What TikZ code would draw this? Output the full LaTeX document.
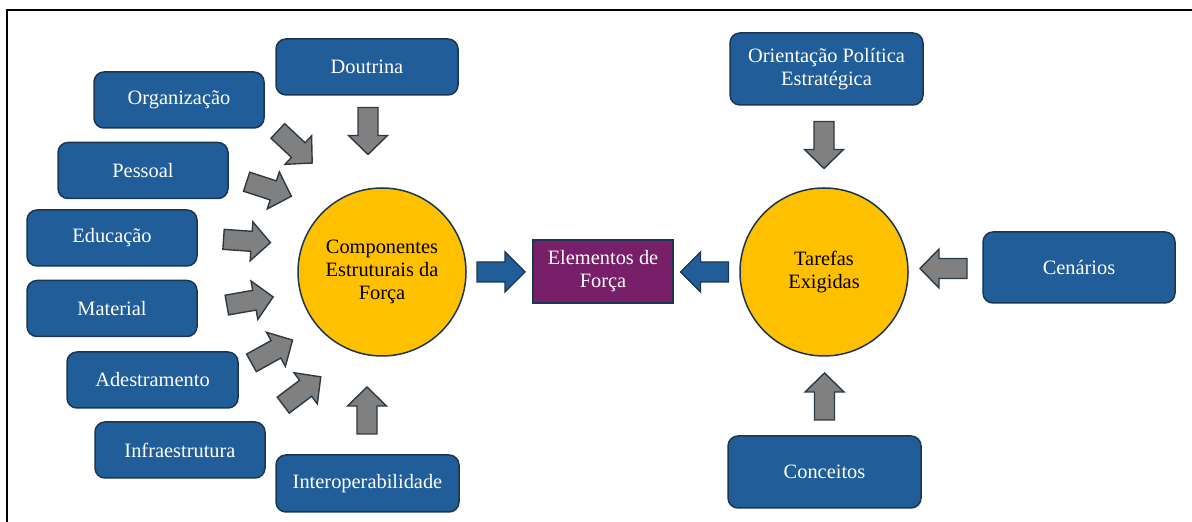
\documentclass[tikz,border=0pt]{standalone}
\usepackage{fontspec}
\setmainfont{Liberation Serif}
\definecolor{boxblue}{HTML}{215E99}
\definecolor{boxline}{HTML}{1B3650}
\definecolor{agray}{HTML}{808080}
\definecolor{aline}{HTML}{2C3A46}
\definecolor{cyellow}{HTML}{FFC000}
\definecolor{epurple}{HTML}{781F69}
\tikzset{
  bluebox/.style={draw=boxline, line width=0.75pt, fill=boxblue, rounded corners=5pt,
    text=white, align=center, inner sep=0pt, font=\fontsize{10.2}{11.5}\selectfont},
  bigcircle/.style={circle, draw=boxline, line width=0.75pt, fill=cyellow, minimum size=84pt,
    inner sep=0pt, align=center, text=black, font=\fontsize{10.2}{11.5}\selectfont},
  purplebox/.style={draw=boxline, line width=0.75pt, fill=epurple, text=white, align=center,
    inner sep=0pt, minimum width=70pt, minimum height=31.5pt, font=\fontsize{10.2}{11.5}\selectfont},
  pics/grayarrow/.style={code={
    \draw[draw=aline, fill=agray, line width=0.7pt, line join=miter]
      (-23.5,-10) -- (4.5,-10) -- (4.5,-19.5) -- (23.5,0) -- (4.5,19.5) -- (4.5,10) -- (-23.5,10) -- cycle;}},
  pics/bluearrow/.style={code={
    \draw[draw=boxline, fill=boxblue, line width=0.7pt, line join=miter]
      (-24,-10) -- (4,-10) -- (4,-20) -- (24,0) -- (4,20) -- (4,10) -- (-24,10) -- cycle;}}
}
\begin{document}
\begin{tikzpicture}[x=0.5pt, y=-0.5pt]
\useasboundingbox (0,0) rectangle (1192,522);
% frame
\coordinate (fbl) at (7,522);
\coordinate (ftl) at (7,10);
\coordinate (ftr) at (1192,10);
\draw[line width=1.3pt] (fbl) -- (ftl) -- (ftr);

% left boxes
\node[bluebox, minimum width=91pt, minimum height=28pt] (dout) at (367,67) {Doutrina};
\node[bluebox, minimum width=85pt, minimum height=28pt] (org) at (179,100) {Organização};
\node[bluebox, minimum width=85pt, minimum height=28pt] (pes) at (143,170.5) {Pessoal};
\node[bluebox, minimum width=85pt, minimum height=28pt] (edu) at (112,238) {Educação};
\node[bluebox, minimum width=85pt, minimum height=28pt] (mat) at (112,308.5) {Material};
\node[bluebox, minimum width=85.5pt, minimum height=28pt] (ade) at (152.5,380) {Adestramento};
\node[bluebox, minimum width=85pt, minimum height=28pt] (inf) at (180,450) {Infraestrutura};
\node[bluebox, minimum width=91.5pt, minimum height=28.5pt] (int) at (367.5,483.5) {Interoperabilidade};

% circles and centre box
\node[bigcircle] (comp) at (382,272) {Componentes\\Estruturais da\\Força};
\node[purplebox] (elem) at (603,271.5) {Elementos de\\Força};
\node[bigcircle] (tar) at (824,272) {Tarefas\\Exigidas};

% right boxes
\node[bluebox, minimum width=96.5pt, minimum height=36pt] (ori) at (826.5,69) {Orientação Política\\Estratégica};
\node[bluebox, minimum width=96pt, minimum height=35.5pt] (cen) at (1079,267.5) {Cenários};
\node[bluebox, minimum width=96.5pt, minimum height=36pt] (con) at (824.5,472) {Conceitos};

% gray arrows towards left circle
\pic[rotate=-90] at (368,131) {grayarrow};
\pic[rotate=-43] at (295,147) {grayarrow};
\pic[rotate=-18] at (269,189) {grayarrow};
\pic[rotate=-4] at (247,241) {grayarrow};
\pic[rotate=10] at (250,301) {grayarrow};
\pic[rotate=29] at (272,351.5) {grayarrow};
\pic[rotate=37] at (302,391) {grayarrow};
\pic[rotate=90] at (367,410.5) {grayarrow};

% gray arrows towards right circle
\pic[rotate=-90] at (824,145) {grayarrow};
\pic[rotate=180] at (943.5,268.5) {grayarrow};
\pic[rotate=90] at (824.5,396.5) {grayarrow};

% blue arrows
\pic at (501,272) {bluearrow};
\pic[rotate=180] at (704.5,272) {bluearrow};
\end{tikzpicture}
\end{document}
